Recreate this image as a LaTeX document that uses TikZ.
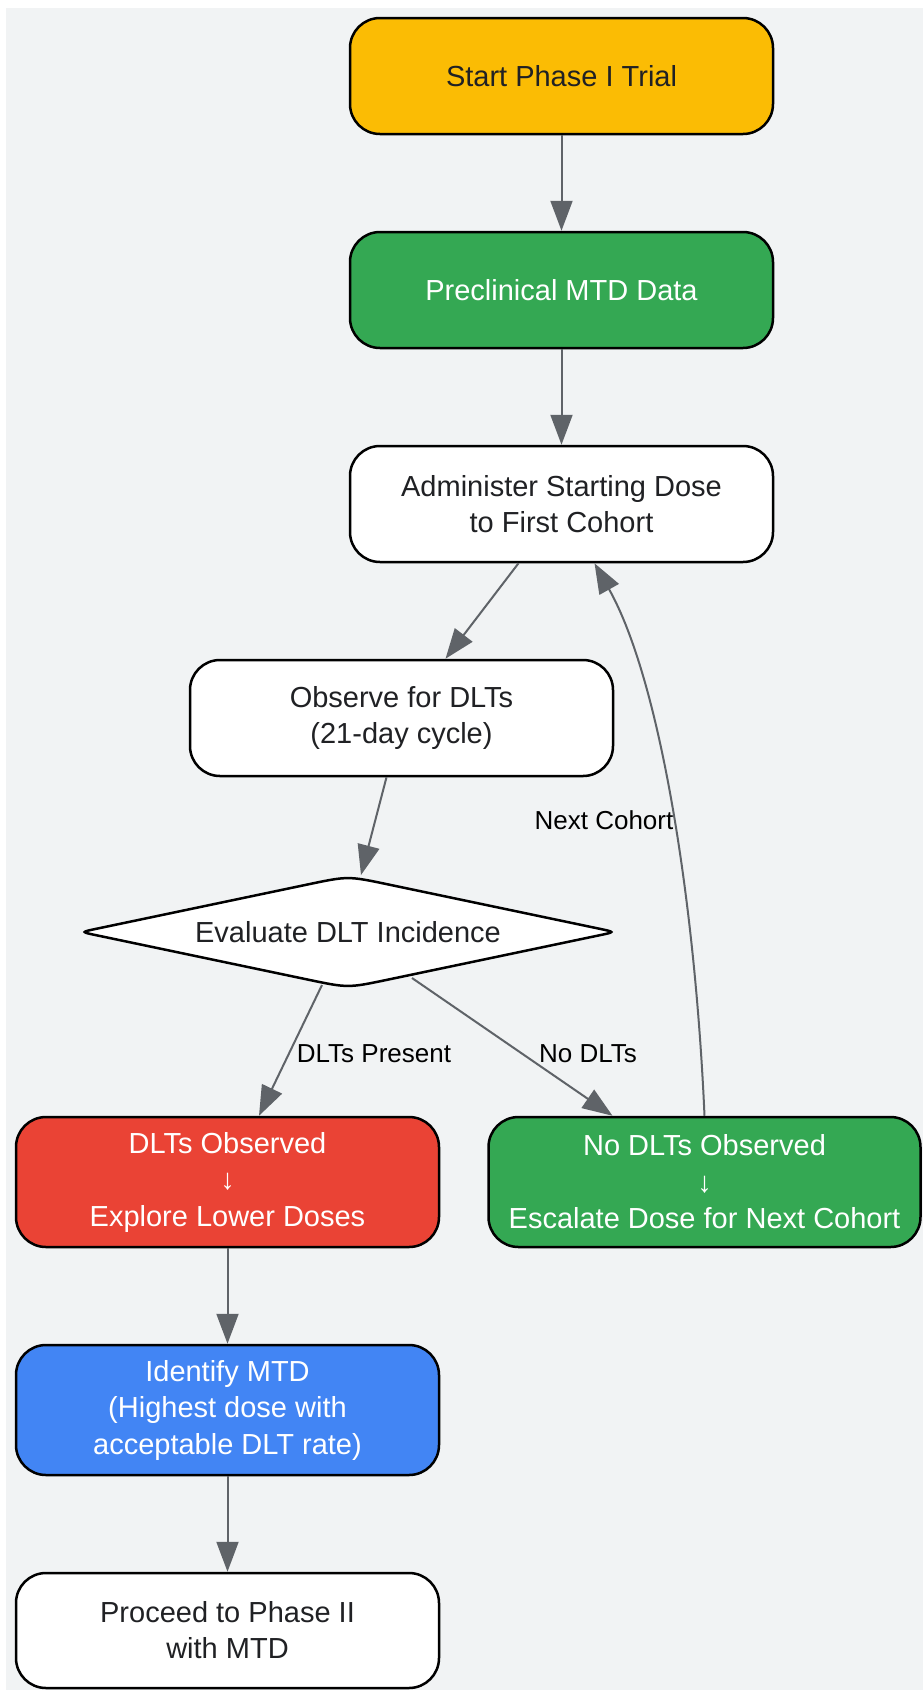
\documentclass[tikz,border=0pt]{standalone}
\usepackage{fontspec}
\setmainfont{Liberation Sans}
\usetikzlibrary{arrows.meta,calc}
\definecolor{bg}{HTML}{F1F3F4}
\definecolor{ink}{HTML}{202124}
\definecolor{edgec}{HTML}{5F6368}
\definecolor{gyellow}{HTML}{FBBC04}
\definecolor{ggreen}{HTML}{34A853}
\definecolor{gred}{HTML}{EA4335}
\definecolor{gblue}{HTML}{4285F4}
\begin{document}
\begin{tikzpicture}[x=1pt,y=-1pt,
  box/.style={draw=black, line width=2.5pt, rounded corners=30pt,
    minimum width=423pt, minimum height=116pt, inner sep=0pt,
    align=center, font=\fontsize{29}{36}\selectfont, text=ink, fill=white},
  tall/.style={minimum height=130pt, font=\fontsize{29}{36.5}\selectfont},
  wtext/.style={text=white},
  conn/.style={draw=edgec, line width=2pt, -{Triangle[length=30pt,width=22pt]}},
  lbl/.style={font=\fontsize{26}{30}\selectfont, text=black, inner sep=0pt}]
\useasboundingbox (0,0) rectangle (923,1690);
\fill[white] (0,0) rectangle (923,1690);
\fill[bg] (6,8) rectangle (923,1690);

% nodes
\node[box, fill=gyellow] (start) at (561.5,76) {Start Phase I Trial};
\node[box, fill=ggreen, wtext] (pre) at (561.5,290) {Preclinical MTD Data};
\node[box] (adm) at (561.5,504) {Administer Starting Dose\\to First Cohort};
\node[box] (obs) at (401.5,718) {Observe for DLTs\\(21-day cycle)};

% diamond
\coordinate (diac) at (348,932);
\begin{scope}[shift={(diac)}]
\draw[line width=2.5pt, fill=white]
  (-252,-3.15) -- (-40,-47.61) .. controls (0,-56) .. (40,-47.61)
  -- (252,-3.15) .. controls (267,0) .. (252,3.15)
  -- (40,47.61) .. controls (0,56) .. (-40,47.61)
  -- (-252,3.15) .. controls (-267,0) .. (-252,-3.15) -- cycle;
\end{scope}
\node[font=\fontsize{29}{36}\selectfont, text=ink, inner sep=0pt] (dia) at (diac) {Evaluate DLT Incidence};
\coordinate (diaN) at ($(diac)+(13,-57)$);
\coordinate (diaS1) at ($(diac)+(-26,53)$);
\coordinate (diaS2) at ($(diac)+(64,46)$);

\node[box, tall, fill=gred, wtext] (dlt) at (227.5,1182) {DLTs Observed\\↓\\Explore Lower Doses};
\node[box, tall, fill=ggreen, wtext, minimum width=432pt] (nod) at (704.5,1182) {No DLTs Observed\\↓\\Escalate Dose for Next Cohort};
\node[box, tall, fill=gblue, wtext] (mtd) at (227.5,1410) {Identify MTD\\(Highest dose with\\acceptable DLT rate)};
\node[box, minimum height=115pt] (p2) at (227.5,1630.5) {Proceed to Phase II\\with MTD};

% connectors
\draw[conn] (start.south) -- (pre.north);
\draw[conn] (pre.south) -- (adm.north);
\draw[conn] ([xshift=-43pt]adm.south) -- ([xshift=44pt]obs.north);
\draw[conn] ([xshift=-15pt]obs.south) -- (diaN);
\draw[conn] (diaS1) -- ([xshift=31.5pt]dlt.north);
\draw[conn] (diaS2) -- ([xshift=-92pt]nod.north);
\draw[conn] (nod.north) .. controls (695,900) and (660,680) .. ([xshift=33pt]adm.south);
\draw[conn] (dlt.south) -- (mtd.north);
\draw[conn] (mtd.south) -- (p2.north);

% labels
\node[lbl] (l1) at (604,820) {Next Cohort};
\node[lbl] (l2) at (374,1054) {DLTs Present};
\node[lbl] (l3) at (588,1054) {No DLTs};
\end{tikzpicture}
\end{document}
